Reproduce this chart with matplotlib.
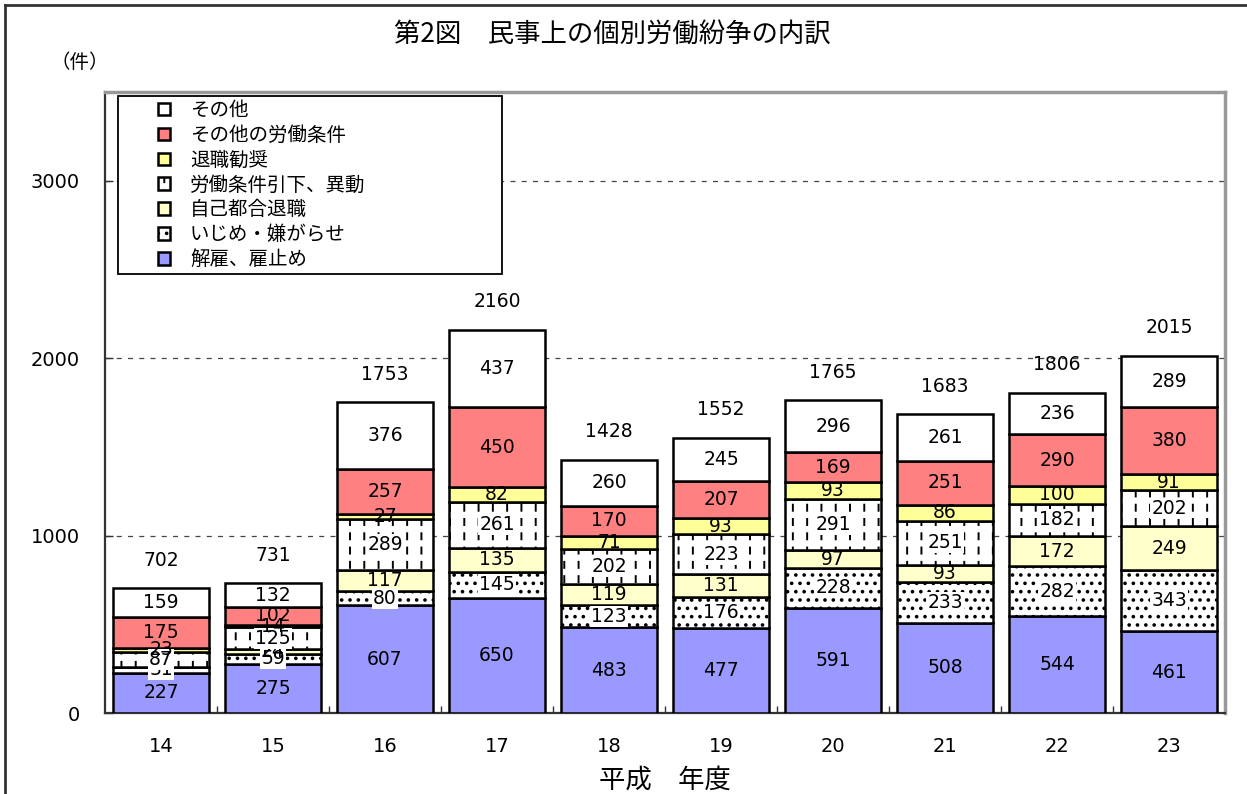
import matplotlib
matplotlib.use("Agg")
import matplotlib.pyplot as plt
import matplotlib.hatch as mhatch
from matplotlib.path import Path
from matplotlib.patches import Rectangle
from matplotlib.legend_handler import HandlerPatch
from matplotlib.lines import Line2D
import numpy as np

plt.rcParams['font.family'] = ['Noto Sans CJK JP', 'DejaVu Sans']
plt.rcParams['hatch.linewidth'] = 1.4

# 平成 年度
years = ["14", "15", "16", "17", "18", "19", "20", "21", "22", "23"]

# bottom -> top
kaiko = [227, 275, 607, 650, 483, 477, 591, 508, 544, 461]        # 解雇、雇止め
ijime = [31, 59, 80, 145, 123, 176, 228, 233, 282, 343]           # いじめ・嫌がらせ
jiko = [0, 24, 117, 135, 119, 131, 97, 93, 172, 249]              # 自己都合退職
hikisage = [87, 125, 289, 261, 202, 223, 291, 251, 182, 202]      # 労働条件引下、異動
kansho = [23, 14, 27, 82, 71, 93, 93, 86, 100, 91]                # 退職勧奨
sonota_jouken = [175, 102, 257, 450, 170, 207, 169, 251, 290, 380]  # その他の労働条件
sonota = [159, 132, 376, 437, 260, 245, 296, 261, 236, 289]       # その他
totals = [702, 731, 1753, 2160, 1428, 1552, 1765, 1683, 1806, 2015]

series = [
    ("解雇、雇止め", kaiko, "#9999ff", None, False),
    ("いじめ・嫌がらせ", ijime, "white", "..", True),
    ("自己都合退職", jiko, "#ffffcc", None, False),
    ("労働条件引下、異動", hikisage, "white", "|", True),
    ("退職勧奨", kansho, "#ffff99", None, False),
    ("その他の労働条件", sonota_jouken, "#ff8080", None, False),
    ("その他", sonota, "white", None, False),
]


# short vertical dashes instead of full lines for the '|' hatch
class DashedVertical(mhatch.HatchPatternBase):
    def __init__(self, hatch, density):
        self.ncols = hatch.count('|') * 7
        self.nrows = 7
        self.num_vertices = self.ncols * self.nrows * 2

    def set_vertices_and_codes(self, vertices, codes):
        xs = (np.arange(self.ncols) + 0.5) / self.ncols
        ys = (np.arange(self.nrows) + 0.25) / self.nrows
        X, Y = np.meshgrid(xs, ys)
        X, Y = X.ravel(), Y.ravel()
        vertices[0::2, 0] = X
        vertices[0::2, 1] = Y
        vertices[1::2, 0] = X
        vertices[1::2, 1] = Y + 0.06
        codes[0::2] = Path.MOVETO
        codes[1::2] = Path.LINETO


mhatch._hatch_types[mhatch._hatch_types.index(mhatch.VerticalHatch)] = DashedVertical

fig = plt.figure(figsize=(12.47, 7.94), dpi=100)
ax = fig.add_axes([0.0842, 0.1020, 0.8982, 0.7821])

x = np.arange(len(years))
bottom = np.zeros(len(years))
handles = []
for name, vals, col, hatch, boxed in series:
    vals = np.array(vals)
    bars = ax.bar(x, vals, 0.85, bottom=bottom, color=col, edgecolor="black",
                  linewidth=1.8, hatch=hatch, label=name, zorder=3)
    handles.append(bars.patches[0])
    for xi, b, v in zip(x, bottom, vals):
        if v == 0:
            continue
        bb = dict(boxstyle="square,pad=0.05", fc="white", ec="none") if boxed else None
        ax.text(xi, b + v / 2, str(v), ha="center", va="center", fontsize=13.5,
                family="DejaVu Sans", bbox=bb, zorder=4)
    bottom = bottom + vals

for xi, t in zip(x, totals):
    ax.annotate(str(t), (xi, t), xytext=(0, 20), textcoords="offset points",
                ha="center", va="center", fontsize=13.5, family="DejaVu Sans")

ax.set_xlim(-0.5, len(years) - 0.5)
ax.set_ylim(0, 3500)
ax.set_yticks([0, 1000, 2000, 3000])
ax.set_xticks(x)
ax.set_xticklabels(years, family="DejaVu Sans", fontsize=14)
ax.set_yticklabels(["0", "1000", "2000", "3000"], family="DejaVu Sans", fontsize=14)
ax.set_xticks(x[:-1] + 0.5, minor=True)
ax.tick_params(axis="x", which="major", length=0, pad=17)
ax.tick_params(axis="x", which="minor", direction="in", length=5, width=1, color="#333333")
ax.tick_params(axis="y", direction="in", length=6, width=1, pad=18, color="#333333")
ax.yaxis.grid(True, linestyle=(0, (4, 5)), color="#444444", linewidth=0.9, zorder=1)
ax.set_axisbelow(True)

for s in ["left", "bottom"]:
    ax.spines[s].set_color("#333333")
    ax.spines[s].set_linewidth(1.6)
for s in ["top", "right"]:
    ax.spines[s].set_color("#999999")
    ax.spines[s].set_linewidth(2.5)


def small_square(legend, orig_handle, xdescent, ydescent, width, height, fontsize):
    size = 12.5 * 72 / 100
    return Rectangle((width - size - xdescent, (height - size) / 2 - ydescent), size, size)


leg = ax.legend(handles[::-1], [s[0] for s in series][::-1], loc="upper left",
                bbox_to_anchor=(0.0116, 0.0, 0.3429, 0.9936), mode="expand",
                borderaxespad=0, fontsize=14, frameon=True, fancybox=False,
                edgecolor="black", framealpha=1, borderpad=0.2, labelspacing=0.2,
                handlelength=2.5, handletextpad=1.0,
                handler_map={Rectangle: HandlerPatch(patch_func=small_square)})
leg.get_frame().set_linewidth(1.3)
leg.set_zorder(5)

fig.text(612 / 1247, 1 - 34 / 794, "第2図　民事上の個別労働紛争の内訳",
         ha="center", va="center", fontsize=19)
fig.text(80 / 1247, 1 - 62 / 794, "（件）", ha="center", va="center", fontsize=14)
fig.text(665 / 1247, 1 - 780 / 794, "平成　年度", ha="center", va="center", fontsize=19)

# outer frame of the figure
fig.add_artist(Line2D([5 / 1247, 1], [1 - 5 / 794] * 2, transform=fig.transFigure,
                      color="#333333", linewidth=2))
fig.add_artist(Line2D([5 / 1247] * 2, [0, 1 - 5 / 794], transform=fig.transFigure,
                      color="#333333", linewidth=2))

fig.savefig("out.png", dpi=100)
